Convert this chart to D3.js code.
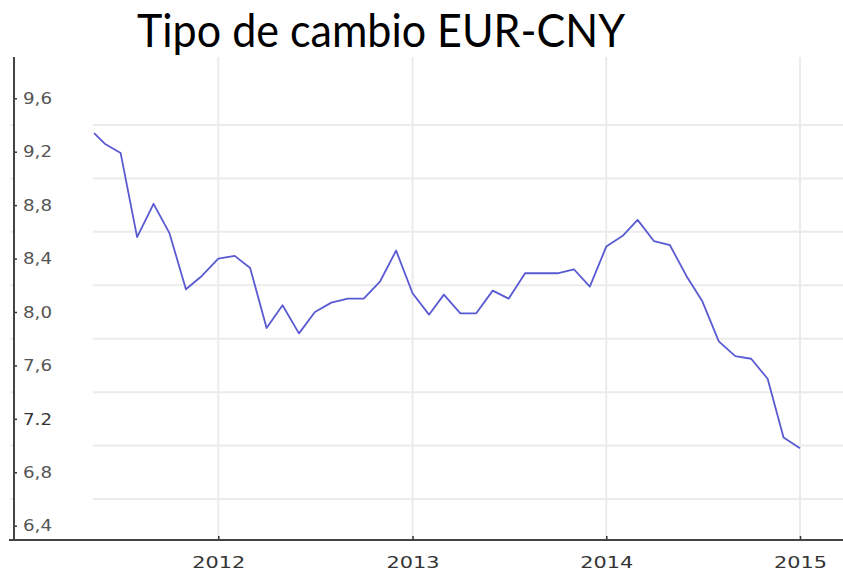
<!DOCTYPE html>
<html>
<head>
<meta charset="UTF-8" />
<title>Tipo de cambio EUR-CNY</title>
<script src="https://d3js.org/d3.v7.min.js"></script>
<style>
	body { margin: 0; background: #fff; }
	svg { display: block; }
</style>
</head>
<body>
<div id="chart"></div>
<script type="text/javascript">

	// monthly EUR-CNY readings (first point is where the line enters the plot)
	var dates = ["2011-05-12","2011-06-01","2011-07-01","2011-08-01","2011-09-01","2011-10-01","2011-11-01","2011-12-01",
		"2012-01-01","2012-02-01","2012-03-01","2012-04-01","2012-05-01","2012-06-01","2012-07-01","2012-08-01",
		"2012-09-01","2012-10-01","2012-11-01","2012-12-01",
		"2013-01-01","2013-02-01","2013-03-01","2013-04-01","2013-05-01","2013-06-01","2013-07-01","2013-08-01",
		"2013-09-01","2013-10-01","2013-11-01","2013-12-01",
		"2014-01-01","2014-02-01","2014-03-01","2014-04-01","2014-05-01","2014-06-01","2014-07-01","2014-08-01",
		"2014-09-01","2014-10-01","2014-11-01","2014-12-01","2015-01-01"]
	var rates = [9.34, 9.26, 9.19, 8.56, 8.81, 8.59, 8.17, 8.27,
		8.40, 8.42, 8.33, 7.88, 8.05, 7.84, 8.00, 8.07,
		8.10, 8.10, 8.23, 8.46,
		8.14, 7.98, 8.13, 7.99, 7.99, 8.16, 8.10, 8.29,
		8.29, 8.29, 8.32, 8.19,
		8.49, 8.57, 8.69, 8.53, 8.50, 8.27, 8.08, 7.78,
		7.67, 7.65, 7.50, 7.06, 6.98]

	var yearTicks = ["2012-01-01","2013-01-01","2014-01-01","2015-01-01"]
	var yTicks = [9.6, 9.2, 8.8, 8.4, 8.0, 7.6, 7.2, 6.8, 6.4]
	var yTickLabels = ["9,6","9,2","8,8","8,4","8,0","7,6","7.2","6,8","6,4"]
	var yGrid = [9.4, 9.0, 8.6, 8.2, 7.8, 7.4, 7.0, 6.6]

	var W = 843, H = 572
	var axisX = 14, axisBottom = 540, plotTop = 57, plotLeft = 93

	var parse = d3.timeParse("%Y-%m-%d")

	var svg = d3.select("#chart").append("svg")
		.attr("width", W)
		.attr("height", H)

	// scales
	var x = d3.scaleTime()
		.domain([parse("2012-01-01"), parse("2015-01-01")])
		.range([218.3, 800])
	var y = d3.scaleLinear()
		.domain([6.6, 9.4])
		.range([499, 125])

	// title
	svg.append("text")
		.attr("x", 137)
		.attr("y", 47)
		.attr("textLength", 488)
		.attr("lengthAdjust", "spacingAndGlyphs")
		.style("font-family", "Lato, 'Open Sans', sans-serif")
		.style("font-size", "46px")
		.style("fill", "#000")
		.text("Tipo de cambio EUR-CNY")

	// grid
	svg.append("g").selectAll("line")
		.data(yGrid)
		.enter().append("line")
			.attr("x1", axisX - 4)
			.attr("x2", W)
			.attr("y1", function(d) { return y(d) })
			.attr("y2", function(d) { return y(d) })
			.attr("stroke", "#ebebeb")
			.attr("stroke-width", 2)
	svg.append("g").selectAll("line")
		.data(yearTicks)
		.enter().append("line")
			.attr("x1", function(d) { return x(parse(d)) })
			.attr("x2", function(d) { return x(parse(d)) })
			.attr("y1", plotTop)
			.attr("y2", axisBottom)
			.attr("stroke", "#ebebeb")
			.attr("stroke-width", 2)

	// blank band between axis and plot
	svg.append("rect")
		.attr("x", axisX + 1)
		.attr("y", plotTop)
		.attr("width", plotLeft - axisX - 1)
		.attr("height", axisBottom - plotTop - 1)
		.attr("fill", "#fff")

	// line
	svg.append("clipPath").attr("id", "clip")
		.append("rect")
			.attr("x", plotLeft)
			.attr("y", plotTop)
			.attr("width", W - plotLeft)
			.attr("height", axisBottom - plotTop)

	var series = dates.map(function(d, i) { return [parse(d), rates[i]] })
	var line = d3.line()
		.x(function(d) { return x(d[0]) })
		.y(function(d) { return y(d[1]) })

	svg.append("path")
		.datum(series)
		.attr("clip-path", "url(#clip)")
		.attr("fill", "none")
		.attr("stroke", "#5a5ad2")
		.attr("stroke-width", 1.8)
		.attr("stroke-linejoin", "round")
		.attr("d", line)

	// y axis
	var yAxis = svg.append("g")
		.attr("transform", "translate(" + axisX + ",0)")
		.call(d3.axisRight(y)
			.tickValues(yTicks)
			.tickSize(3)
			.tickPadding(6)
			.tickFormat(function(d, i) { return yTickLabels[i] }))
	yAxis.select(".domain").remove()
	yAxis.selectAll(".tick line").attr("stroke", "#333").attr("stroke-width", 1.5)
	yAxis.selectAll(".tick text")
		.style("font-family", "'DejaVu Sans', Verdana, sans-serif")
		.style("font-size", "16.5px")
		.style("fill", function(d, i) { return yTickLabels[i].indexOf(".") >= 0 ? "#333" : "#555" })
		.attr("textLength", 29)
		.attr("lengthAdjust", "spacingAndGlyphs")
	svg.append("line")
		.attr("x1", axisX).attr("x2", axisX)
		.attr("y1", plotTop).attr("y2", axisBottom)
		.attr("stroke", "#444")
		.attr("stroke-width", 2)

	// x axis
	var xAxis = svg.append("g")
		.attr("transform", "translate(0," + axisBottom + ")")
		.call(d3.axisBottom(x)
			.tickValues(yearTicks.map(parse))
			.tickSize(-4)
			.tickPadding(16)
			.tickFormat(d3.timeFormat("%Y")))
	xAxis.select(".domain").remove()
	xAxis.selectAll(".tick line").attr("stroke", "#333").attr("stroke-width", 1.5)
	xAxis.selectAll(".tick text")
		.style("font-family", "'DejaVu Sans', Verdana, sans-serif")
		.style("font-size", "16.5px")
		.style("fill", "#333")
		.attr("textLength", 53)
		.attr("lengthAdjust", "spacingAndGlyphs")
	svg.append("line")
		.attr("x1", axisX - 5).attr("x2", W)
		.attr("y1", axisBottom).attr("y2", axisBottom)
		.attr("stroke", "#444")
		.attr("stroke-width", 2)

</script>
</body>
</html>
